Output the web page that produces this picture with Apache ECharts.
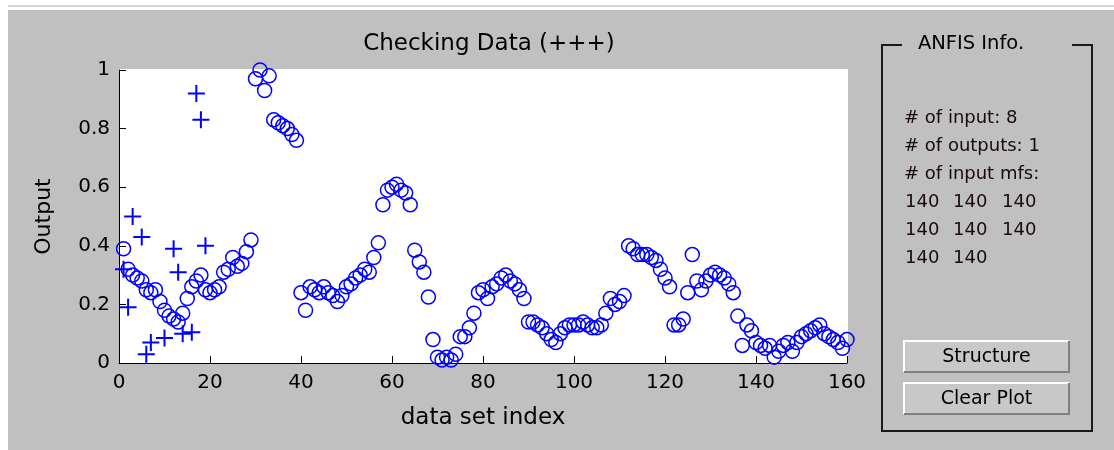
<!DOCTYPE html>
<html>
<head>
<meta charset="utf-8">
<script src="https://cdn.jsdelivr.net/npm/echarts@6/dist/echarts.min.js"></script>
<style>
html,body{margin:0;padding:0;background:#ffffff;}
#chart{width:1114px;height:450px;}
</style>
</head>
<body>
<div id="chart"></div>
<script>
// ---- data ----
const titleText = 'Checking Data (+++)';
const xLabelText = 'data set index';
const yLabelText = 'Output';
const xTicks = [0, 20, 40, 60, 80, 100, 120, 140, 160];
const yTicks = [0, 0.2, 0.4, 0.6, 0.8, 1];

// circles: output value for data set index 1..160
const circleVals = [
  0.39,0.32,0.30,0.29,0.28,0.25,0.24,0.25,0.21,0.18,
  0.16,0.15,0.14,0.17,0.22,0.26,0.28,0.30,0.25,0.24,
  0.25,0.26,0.31,0.32,0.36,0.33,0.34,0.38,0.42,0.97,
  1.00,0.93,0.98,0.83,0.82,0.81,0.80,0.78,0.76,0.24,
  0.18,0.26,0.25,0.24,0.26,0.24,0.23,0.21,0.23,0.26,
  0.27,0.29,0.30,0.32,0.31,0.36,0.41,0.54,0.59,0.60,
  0.61,0.59,0.58,0.54,0.385,0.345,0.31,0.225,0.08,0.02,
  0.01,0.02,0.01,0.03,0.09,0.09,0.12,0.17,0.24,0.25,
  0.22,0.26,0.27,0.29,0.30,0.28,0.27,0.25,0.22,0.14,
  0.14,0.13,0.12,0.10,0.08,0.07,0.10,0.12,0.13,0.13,
  0.13,0.14,0.13,0.12,0.12,0.13,0.17,0.22,0.20,0.21,
  0.23,0.40,0.39,0.37,0.37,0.37,0.36,0.35,0.32,0.29,
  0.26,0.13,0.13,0.15,0.24,0.37,0.28,0.25,0.28,0.30,
  0.31,0.30,0.29,0.27,0.24,0.16,0.06,0.13,0.11,0.07,
  0.06,0.05,0.06,0.02,0.04,0.06,0.07,0.04,0.07,0.09,
  0.10,0.11,0.12,0.13,0.10,0.09,0.08,0.07,0.05,0.08
];
// plus markers: index and value
const plusIdx  = [1, 2, 3, 5, 6, 7, 10, 12, 13, 14, 16, 17, 18, 19];
const plusVals = [0.32, 0.19, 0.50, 0.43, 0.03, 0.07, 0.085, 0.39, 0.31, 0.10, 0.105, 0.92, 0.83, 0.40];

const infoTitle = 'ANFIS Info.';
const infoLines = ['# of input: 8', '# of outputs: 1', '# of input mfs:'];
const mfRows = [['140','140','140'],['140','140','140'],['140','140']];
const buttonLabels = ['Structure', 'Clear Plot'];

// ---- chart ----
const FONT = '"DejaVu Sans", "Liberation Sans", Arial, sans-serif';
const blue = '#0000ff';
const chart = echarts.init(document.getElementById('chart'), null, {renderer: 'canvas'});

const circleData = circleVals.map((v, i) => [i + 1, v]);
const plusData = plusIdx.map((x, i) => [x, plusVals[i]]);

const graphics = [];
// background
graphics.push({type:'rect', z:-10, silent:true, shape:{x:0,y:0,width:1114,height:450}, style:{fill:'#ffffff'}});
graphics.push({type:'rect', z:-10, silent:true, shape:{x:8,y:5,width:1106,height:2}, style:{fill:'#d4d4d4'}});
graphics.push({type:'rect', z:-10, silent:true, shape:{x:8,y:10,width:1106,height:440}, style:{fill:'#c0c0c0'}});
// plot area white
graphics.push({type:'rect', z:-9, silent:true, shape:{x:119,y:69,width:729,height:294}, style:{fill:'#ffffff'}});

// info frame
const fx1 = 882, fx2 = 1092, fy1 = 45, fy2 = 431;
graphics.push({type:'polyline', silent:true, shape:{points:[[902,fy1],[fx1,fy1],[fx1,fy2],[fx2,fy2],[fx2,fy1],[1072,fy1]]}, style:{stroke:'#1a1a1a', lineWidth:2, fill:null}});
graphics.push({type:'text', silent:true, style:{text:infoTitle, x:971, y:44, font:'19.5px ' + FONT, fill:'#000', align:'center', verticalAlign:'middle'}});
infoLines.forEach((t, i) => {
  graphics.push({type:'text', silent:true, style:{text:t, x:904, y:118 + i*28, font:'18px ' + FONT, fill:'#1a0a0a', align:'left', verticalAlign:'middle'}});
});
const colX = [905, 953, 1002];
mfRows.forEach((row, r) => {
  row.forEach((t, c) => {
    graphics.push({type:'text', silent:true, style:{text:t, x:colX[c], y:202 + r*28, font:'18px ' + FONT, fill:'#1a0a0a', align:'left', verticalAlign:'middle'}});
  });
});
// buttons
const btnY = [340, 382];
buttonLabels.forEach((lab, i) => {
  const x = 903, y = btnY[i], w = 167, h = 33;
  graphics.push({type:'rect', silent:true, shape:{x:x,y:y,width:w,height:h}, style:{fill:'#c8c8c8'}});
  graphics.push({type:'polyline', silent:true, shape:{points:[[x+1,y+h-1],[x+1,y+1],[x+w-1,y+1]]}, style:{stroke:'#ffffff', lineWidth:2, fill:null}});
  graphics.push({type:'polyline', silent:true, shape:{points:[[x+1,y+h-1],[x+w-1,y+h-1],[x+w-1,y+1]]}, style:{stroke:'#808080', lineWidth:2, fill:null}});
  graphics.push({type:'text', silent:true, style:{text:lab, x:x + w/2, y:y + h/2 + 1, font:'19px ' + FONT, fill:'#000', align:'center', verticalAlign:'middle'}});
});

const option = {
  animation: false,
  backgroundColor: 'transparent',
  title: {
    text: titleText, left: 484, top: 28, textAlign: 'center',
    textStyle: {fontFamily: FONT, fontSize: 23, fontWeight: 'normal', color: '#000'}
  },
  grid: {left: 119, top: 70, width: 728, height: 293, containLabel: false},
  xAxis: {
    type: 'value', min: 0, max: 160, interval: 20,
    name: xLabelText, nameLocation: 'middle', nameGap: 44,
    nameTextStyle: {fontFamily: FONT, fontSize: 23, color: '#000'},
    axisLine: {show: true, onZero: false, lineStyle: {color: '#000', width: 1}},
    axisTick: {show: true, inside: true, length: 7, lineStyle: {color: '#000'}},
    axisLabel: {show: true, margin: 10, fontFamily: FONT, fontSize: 20, color: '#000',
      formatter: v => xTicks.includes(v) ? String(v) : ''},
    splitLine: {show: false}
  },
  yAxis: {
    type: 'value', min: 0, max: 1, interval: 0.2,
    name: yLabelText, nameLocation: 'middle', nameGap: 64, nameRotate: 90,
    nameTextStyle: {fontFamily: FONT, fontSize: 22, color: '#000'},
    axisLine: {show: true, onZero: false, lineStyle: {color: '#000', width: 1}},
    axisTick: {show: true, inside: true, length: 7, lineStyle: {color: '#000'}},
    axisLabel: {show: true, margin: 9, fontFamily: FONT, fontSize: 20, color: '#000',
      formatter: v => { const t = yTicks.find(k => Math.abs(k - v) < 1e-9); return t === undefined ? '' : String(t); }},
    splitLine: {show: false}
  },
  graphic: graphics,
  series: [
    {
      type: 'scatter', name: 'circles', data: circleData,
      symbol: 'circle', symbolSize: 14,
      itemStyle: {color: 'rgba(0,0,0,0)', borderColor: blue, borderWidth: 1.5, opacity: 1},
      emphasis: {disabled: true}, z: 3
    },
    {
      type: 'scatter', name: 'plus', data: plusData,
      symbol: 'path://M0,8L16,8M8,0L8,16', symbolSize: 17,
      itemStyle: {color: 'rgba(0,0,0,0)', borderColor: blue, borderWidth: 2, opacity: 1},
      emphasis: {disabled: true}, z: 4
    }
  ]
};
chart.setOption(option);
</script>
</body>
</html>
